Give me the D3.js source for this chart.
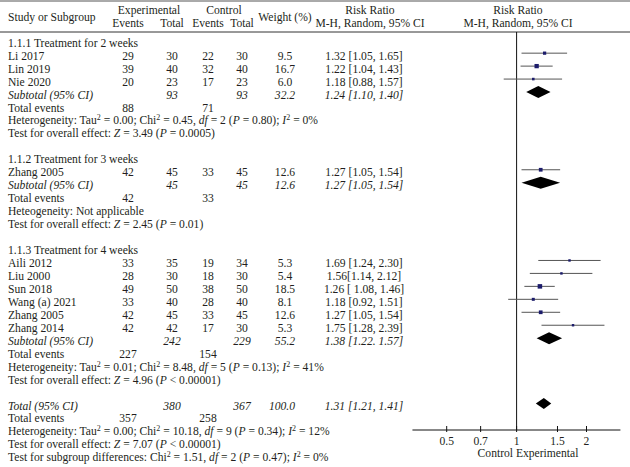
<!DOCTYPE html>
<html><head><meta charset="utf-8">
<script src="https://cdn.jsdelivr.net/npm/d3@7"></script>
<style>body{margin:0;background:#fff}svg{display:block}</style>
</head><body>
<svg id="c" width="630" height="467"></svg>
<script>
// ---- data ----
const groupTitles = ["1.1.1 Treatment for 2 weeks","1.1.2 Treatment for 3 weeks","1.1.3 Treatment for 4 weeks"];
const studyGroup = [0,0,0,1,2,2,2,2,2,2];
const studyNames = ["Li 2017","Lin 2019","Nie 2020","Zhang 2005","Aili 2012","Liu 2000","Sun 2018","Wang (a) 2021","Zhang 2005","Zhang 2014"];
const expEvents = [29,39,20,42,33,28,49,33,42,42];
const expTotal  = [30,40,23,45,35,30,50,40,45,42];
const ctlEvents = [22,32,17,33,19,18,38,28,33,17];
const ctlTotal  = [30,40,23,45,34,30,50,40,45,30];
const weights   = [9.5,16.7,6.0,12.6,5.3,5.4,18.5,8.1,12.6,5.3];
const rr        = [1.32,1.22,1.18,1.27,1.69,1.56,1.26,1.18,1.27,1.75];
const rrLo      = [1.05,1.04,0.88,1.05,1.24,1.14,1.08,0.92,1.05,1.28];
const rrHi      = [1.65,1.43,1.57,1.54,2.30,2.12,1.46,1.51,1.54,2.39];
const rrLabels  = ["1.32 [1.05, 1.65]","1.22 [1.04, 1.43]","1.18 [0.88, 1.57]","1.27 [1.05, 1.54]","1.69 [1.24, 2.30]","1.56[1.14, 2.12]","1.26 [ 1.08, 1.46]","1.18 [0.92, 1.51]","1.27 [1.05, 1.54]","1.75 [1.28, 2.39]"];
const subExpTotal = [93,45,242];
const subCtlTotal = [93,45,229];
const subWeight   = ["32.2","12.6","55.2"];
const subRR   = [1.24,1.27,1.38];
const subLo   = [1.10,1.05,1.22];
const subHi   = [1.40,1.54,1.57];
const subLabels = ["1.24 [1.10, 1.40]","1.27 [1.05, 1.54]","1.38 [1.22. 1.57]"];
const subExpEvents = [88,42,227];
const subCtlEvents = [71,33,154];
const subHet = ["Heterogeneity: Tau^2 = 0.00; Chi^2 = 0.45, *df* = 2 (*P* = 0.80); *I*^2 = 0%",
                "Heteogeneity: Not applicable",
                "Heterogeneity: Tau^2 = 0.01; Chi^2 = 8.48, *df* = 5 (*P* = 0.13); *I*^2 = 41%"];
const subTest = ["Test for overall effect: *Z* = 3.49 (*P* = 0.0005)",
                 "Test for overall effect: *Z* = 2.45 (*P* = 0.01)",
                 "Test for overall effect: *Z* = 4.96 (*P* < 0.00001)"];
const totExpTotal = 380, totCtlTotal = 367, totWeight = "100.0";
const totRR = 1.31, totLo = 1.21, totHi = 1.41, totLabel = "1.31 [1.21, 1.41]";
const totExpEvents = 357, totCtlEvents = 258;
const totHet = "Heterogeneity: Tau^2 = 0.00; Chi^2 = 10.18, *df* = 9 (*P* = 0.34); *I*^2 = 12%";
const totTest = "Test for overall effect: *Z* = 7.07 (*P* < 0.00001)";
const subDiff = "Test for subgroup differences: Chi^2 = 1.51, *df* = 2 (*P* = 0.47); *I*^2 = 0%";
const axisTicks = [0.5,0.7,1,1.5,2];
const axisLabel = "Control Experimental";

// ---- layout ----
const svg = d3.select("#c");
const W = 630;
const FONT = "'Liberation Serif','Times New Roman',serif";
const FS = 11.6;
const TXT = "#231f20";
const col = {name:8, ee:128, et:172, ce:208, ct:242, w:285, rr:364};
const y = d3.scaleLinear().domain([0,32]).range([42.7, 457.3]);
const x = d3.scaleLog().domain([0.5,2]).range([446.7,586.5]);
const axisY = 430, vTop = 32;

function rich(sel, str){
  const parts = str.split(/(\^2|\*[^*]+\*)/).filter(s=>s.length);
  let up = false;
  parts.forEach(p=>{
    if(p==="^2"){ sel.append("tspan").attr("dy",-4).attr("font-size",8).text("2"); up=true; return; }
    const t = sel.append("tspan");
    if(up){ t.attr("dy",4); up=false; }
    if(p[0]==="*"){ t.attr("font-style","italic").text(p.slice(1,-1)); } else t.text(p);
  });
}
function txt(xx, yy, s, anchor="start", italic=false){
  const t = svg.append("text").attr("x",xx).attr("y",yy).attr("dy","0.35em")
    .attr("text-anchor",anchor).attr("font-family",FONT).attr("font-size",FS).attr("fill",TXT);
  if(italic) t.attr("font-style","italic");
  rich(t, String(s));
  return t;
}

// header
svg.append("line").attr("x1",0).attr("x2",W).attr("y1",1).attr("y2",1).attr("stroke","#555").attr("stroke-width",1);
svg.append("line").attr("x1",0).attr("x2",W).attr("y1",32).attr("y2",32).attr("stroke","#333").attr("stroke-width",1);
txt(col.name,16.5,"Study or Subgroup");
txt(149,9.5,"Experimental","middle");
txt(224,9.5,"Control","middle");
txt(col.ee,23,"Events","middle");
txt(col.et,23,"Total","middle");
txt(col.ce,23,"Events","middle");
txt(col.ct,23,"Total","middle");
txt(col.w,16.5,"Weight (%)","middle");
txt(370,10,"Risk Ratio","middle");
txt(370,23,"M-H, Random, 95% CI","middle");
txt(518,10,"Risk Ratio","middle");
txt(518,23,"M-H, Random, 95% CI","middle");

// forest frame
svg.append("line").attr("x1",x(1)).attr("x2",x(1)).attr("y1",vTop).attr("y2",axisY).attr("stroke","#111").attr("stroke-width",1);
svg.append("line").attr("x1",x(0.356)).attr("x2",x(2.8)).attr("y1",axisY).attr("y2",axisY).attr("stroke","#111").attr("stroke-width",1);
axisTicks.forEach(t=>{
  svg.append("line").attr("x1",x(t)).attr("x2",x(t)).attr("y1",axisY-4).attr("y2",axisY+2).attr("stroke","#111");
  txt(x(t), 440.5, t, "middle");
});
txt(528, 453, axisLabel, "middle");

function diamond(r, lo, hi, yy, h){
  svg.append("path").attr("d",`M${x(lo)},${yy}L${x(r)},${yy-h}L${x(hi)},${yy}L${x(r)},${yy+h}Z`).attr("fill","#000");
}
function study(i, yy){
  txt(col.name, yy, studyNames[i]);
  txt(col.ee, yy, expEvents[i], "middle");
  txt(col.et, yy, expTotal[i], "middle");
  txt(col.ce, yy, ctlEvents[i], "middle");
  txt(col.ct, yy, ctlTotal[i], "middle");
  txt(col.w, yy, weights[i].toFixed(1), "middle");
  txt(col.rr, yy, rrLabels[i], "middle");
  const ly = yy-2.5;
  svg.append("line").attr("x1",x(rrLo[i])).attr("x2",x(rrHi[i])).attr("y1",ly).attr("y2",ly).attr("stroke","#555").attr("stroke-width",1);
  const s = Math.sqrt(weights[i])*1.05;
  svg.append("rect").attr("x",x(rr[i])-s/2).attr("y",ly-s/2).attr("width",s).attr("height",s).attr("fill","#1c1c6b");
}

let r = 0;
groupTitles.forEach((g,gi)=>{
  txt(col.name, y(r), g); r++;
  studyNames.forEach((n,i)=>{ if(studyGroup[i]===gi){ study(i, y(r)); r++; } });
  const sy = y(r);
  txt(col.name, sy, "Subtotal (95% CI)", "start", true);
  txt(col.et, sy, subExpTotal[gi], "middle", true);
  txt(col.ct, sy, subCtlTotal[gi], "middle", true);
  txt(col.w, sy, subWeight[gi], "middle", true);
  txt(col.rr, sy, subLabels[gi], "middle", true);
  diamond(subRR[gi], subLo[gi], subHi[gi], sy-2.5, 6);
  r++;
  txt(col.name, y(r), "Total events");
  txt(col.ee, y(r), subExpEvents[gi], "middle");
  txt(col.ce, y(r), subCtlEvents[gi], "middle");
  r++;
  txt(col.name, y(r), subHet[gi]); r++;
  txt(col.name, y(r), subTest[gi]); r++;
  r++;
});
const ty = y(r);
txt(col.name, ty, "Total (95% CI)", "start", true);
txt(col.et, ty, totExpTotal, "middle", true);
txt(col.ct, ty, totCtlTotal, "middle", true);
txt(col.w-3, ty, totWeight, "middle", true);
txt(col.rr, ty, totLabel, "middle", true);
diamond(totRR, totLo, totHi, ty-2, 5.5);
r++;
txt(col.name, y(r), "Total events");
txt(col.ee, y(r), totExpEvents, "middle");
txt(col.ce, y(r), totCtlEvents, "middle");
r++;
txt(col.name, y(r), totHet); r++;
txt(col.name, y(r), totTest); r++;
txt(col.name, y(r), subDiff);
</script>
</body></html>
